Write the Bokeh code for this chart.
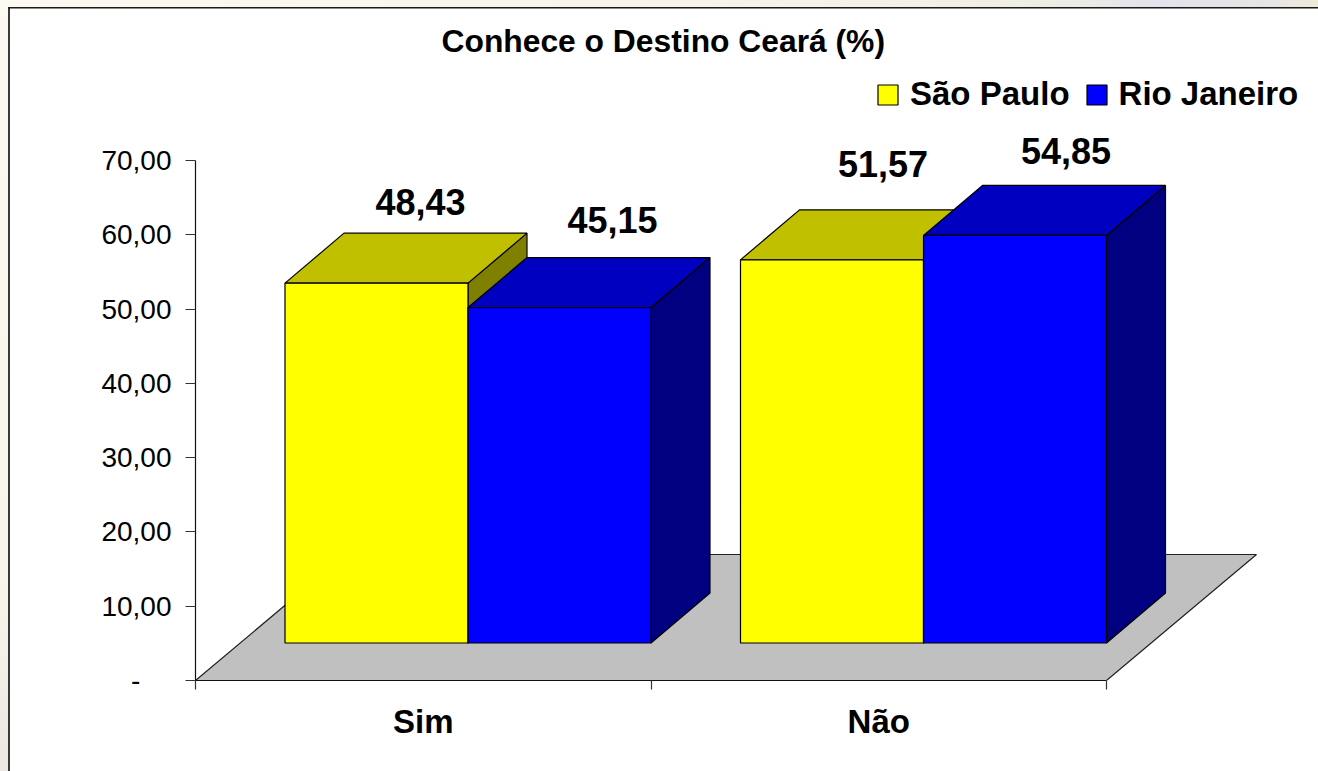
from bokeh.plotting import figure
from bokeh.models import ColumnDataSource, FixedTicker, Legend, LegendItem, Range1d, Title
from bokeh.embed import file_html
from bokeh.resources import INLINE

# ---- data ----
categories = ["Sim", "Não"]
series_names = ["São Paulo", "Rio Janeiro"]
sao_paulo = [48.43, 51.57]
rio_janeiro = [45.15, 54.85]
y_ticks = [0, 10, 20, 30, 40, 50, 60, 70]
y_tick_labels = ["-\u00a0\u00a0\u00a0\u00a0", "10,00", "20,00", "30,00", "40,00", "50,00", "60,00", "70,00"]
title_text = "Conhece o Destino Ceará (%)"

# ---- label nudges in pixels (sao paulo, rio) ----
sp_dx, sp_dy = [44, 51], [-81, -96]
rj_dx, rj_dy = [53, 51], [-88, -84]

# ---- layout ----
FONT = "Liberation Sans"
slot_px, unit_px = 455.5, 7.43
gap = 89.5 / slot_px
bar_w = 183 / slot_px
bar_dx, bar_dy = 59 / slot_px, 50 / unit_px
floor_dx, floor_dy = 150 / slot_px, 126 / unit_px
base = 37.5 / unit_px
FW, FH = 1318, 771
L, T, B = 195, 60, 91
n_slots = len(categories)

p = figure(width=FW, height=FH, output_backend="svg", toolbar_location=None,
           x_range=Range1d(0, (FW - L) / slot_px), y_range=Range1d(0, (FH - T - B) / unit_px),
           min_border_left=L, min_border_right=0, min_border_top=T, min_border_bottom=B,
           background_fill_alpha=0, border_fill_alpha=0,
           outline_line_color=None, tools="")
p.styles = {"background": ", ".join([
    "linear-gradient(#1a1a1a,#1a1a1a) 8px 7px/100% 1.5px no-repeat",
    "linear-gradient(#3a3a3a,#3a3a3a) 8px 7px/2px 100% no-repeat",
    "linear-gradient(#fff,#fff) 9px 8px/100% 100% no-repeat",
    "linear-gradient(90deg,#FBF9F1 0%,#F6F3EA 60%,#EEEDE4 80%,#E2E3EC 88%,#E6E5E6 96%,#EFEBD9 100%) 0 0/100% 8px no-repeat",
    "linear-gradient(180deg,#FBF9F1 0%,#F9F5EA 75%,#ECE6E2 100%)",
])}
p.grid.visible = False

# axes
xa, ya = p.xaxis[0], p.yaxis[0]
ya.ticker = FixedTicker(ticks=y_ticks)
ya.major_label_overrides = dict(zip(y_ticks, y_tick_labels))
ya.bounds = (0, 70)
ya.minor_tick_line_color = None
ya.major_tick_out, ya.major_tick_in = 10, 0
ya.major_label_standoff = 14
ya.major_label_text_font = FONT
ya.major_label_text_font_size = "28px"
ya.major_label_text_color = "black"
ya.axis_line_color = "#111111"
ya.major_tick_line_color = "#333333"
ya.axis_line_width = ya.major_tick_line_width = 1.2

slot_edges = list(range(n_slots + 1))
slot_mids = [i + 0.5 for i in range(n_slots)]
xa.ticker = FixedTicker(ticks=slot_mids, minor_ticks=slot_edges)
xa.major_label_overrides = dict(zip(slot_mids, categories))
xa.bounds = (0, n_slots)
xa.major_tick_line_color = None
xa.minor_tick_out, xa.minor_tick_in = 9, 0
xa.minor_tick_line_color = "#333333"
xa.minor_tick_line_width = 1.2
xa.axis_line_color = "#111111"
xa.axis_line_width = 1.2
xa.major_label_standoff = 13
xa.major_label_text_font = FONT
xa.major_label_text_font_size = "33px"
xa.major_label_text_font_style = "bold"
xa.major_label_text_color = "black"

# floor
p.patch([0, n_slots, n_slots + floor_dx, floor_dx], [0, 0, floor_dy, floor_dy],
        fill_color="#C0C0C0", line_color="#222222", line_width=1.2)


def bar3d(values, offset, front, top, side):
    x0 = [i + gap + offset * bar_w for i in range(len(values))]
    x1 = [x + bar_w for x in x0]
    y1 = [base + v for v in values]
    p.patches([[b, b + bar_dx, b + bar_dx, b] for b in x1],
              [[base, base + bar_dy, t + bar_dy, t] for t in y1],
              fill_color=side, line_color="black", line_width=1.2)
    p.patches([[a, a + bar_dx, b + bar_dx, b] for a, b in zip(x0, x1)],
              [[t, t + bar_dy, t + bar_dy, t] for t in y1],
              fill_color=top, line_color="black", line_width=1.2)
    return p.patches([[a, b, b, a] for a, b in zip(x0, x1)],
                     [[base, base, t, t] for t in y1],
                     fill_color=front, line_color="black", line_width=1.2)


r_sp = bar3d(sao_paulo, 0, "#FFFF00", "#C0C000", "#808000")
r_rj = bar3d(rio_janeiro, 1, "#0000FF", "#0000C0", "#000080")


def fmt(v):
    return f"{v:.2f}".replace(".", ",")


def value_labels(values, offset, dx, dy):
    src = ColumnDataSource(dict(
        x=[i + gap + (offset + 0.5) * bar_w for i in range(len(values))],
        y=[base + v for v in values],
        t=[fmt(v) for v in values], dx=dx, dy=dy))
    p.text("x", "y", text="t", source=src, x_offset="dx", y_offset="dy",
           text_align="center", text_baseline="middle", text_font_size="36px",
           text_font_style="bold", text_color="black", text_font={"value": FONT})


value_labels(sao_paulo, 0, sp_dx, sp_dy)
value_labels(rio_janeiro, 1, rj_dx, rj_dy)

# legend
leg = Legend(items=[LegendItem(label=series_names[0], renderers=[r_sp], index=0),
                    LegendItem(label=series_names[1], renderers=[r_rj], index=0)],
             orientation="horizontal", location=(680, 567), padding=0, margin=0, spacing=14,
             glyph_width=25, glyph_height=25, label_standoff=10, label_text_font=FONT,
             label_text_font_size="33px", label_text_font_style="bold",
             label_text_color="black", border_line_color=None, background_fill_alpha=0)
p.add_layout(leg, "center")

# title
p.add_layout(Title(text=title_text, align="left", offset=246, text_font=FONT,
                   text_font_size="31.8px", text_font_style="bold", text_color="black",
                   standoff=3), "above")

open("out.html", "w").write(file_html(p, INLINE))
